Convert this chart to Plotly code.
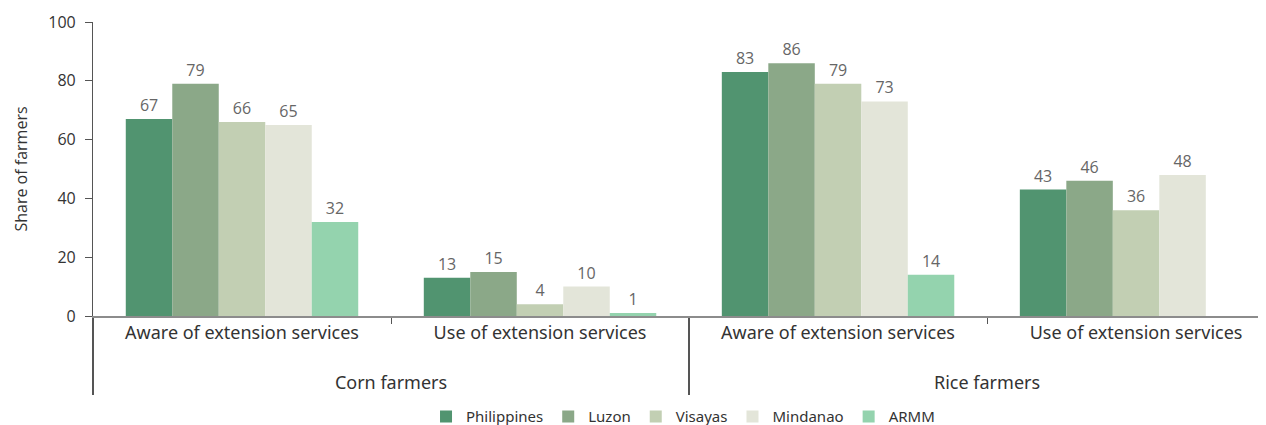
import plotly.graph_objects as go

groups = ["<br>Corn farmers", "<br>Corn farmers", "<br>Rice farmers", "<br>Rice farmers"]
measures = ["Aware of extension services", "Use of extension services",
            "Aware of extension services", "Use of extension services"]

philippines = [67, 13, 83, 43]
luzon = [79, 15, 86, 46]
visayas = [66, 4, 79, 36]
mindanao = [65, 10, 73, 48]
armm = [32, 1, 14, None]

series = [
    ("Philippines", philippines, "#519470"),
    ("Luzon", luzon, "#8BA888"),
    ("Visayas", visayas, "#C2CFB3"),
    ("Mindanao", mindanao, "#E3E5D9"),
    ("ARMM", armm, "#94D3AE"),
]

fig = go.Figure()
for name, vals, color in series:
    fig.add_trace(go.Bar(
        name=name,
        x=[groups, measures],
        y=vals,
        marker=dict(color=color, line=dict(width=0)),
        text=[("" if v is None else str(v)) for v in vals],
        textposition="outside",
        textfont=dict(family="Open Sans", size=16, color="#666666"),
        cliponaxis=False,
    ))

fig.update_layout(
    width=1258,
    height=417,
    margin=dict(l=85, r=0, t=14, b=109, autoexpand=False),
    paper_bgcolor="white",
    plot_bgcolor="white",
    barmode="group",
    bargap=0.22,
    bargroupgap=0,
    showlegend=True,
    legend=dict(
        orientation="h",
        x=0.503, xanchor="center",
        y=-0.343, yanchor="middle",
        font=dict(family="Noto Sans", size=15, color="#333333"),
        itemwidth=30,
        traceorder="normal",
    ),
    font=dict(family="Noto Sans", color="#333333"),
)

fig.update_xaxes(
    type="multicategory",
    range=[-0.5, 3.436],
    automargin=False,
    showline=True,
    linecolor="#8c8c8c",
    linewidth=1.5,
    ticks="outside",
    tickson="boundaries",
    ticklen=6,
    tickcolor="#555555",
    showdividers=True,
    dividercolor="#555555",
    dividerwidth=1.5,
    tickfont=dict(family="Noto Sans", size=18, color="#333333"),
    showgrid=False,
)

fig.update_yaxes(
    range=[0, 100],
    tickvals=[0, 20, 40, 60, 80, 100],
    automargin=False,
    showline=True,
    linecolor="#555555",
    linewidth=1.2,
    ticks="outside",
    ticklen=7,
    ticklabelstandoff=6,
    tickcolor="#555555",
    showgrid=False,
    zeroline=False,
    tickfont=dict(family="Open Sans", size=16, color="#333333"),
    title=dict(text="Share of farmers", font=dict(family="Open Sans", size=16, color="#333333"), standoff=16),
)

fig.write_html("out.html")
